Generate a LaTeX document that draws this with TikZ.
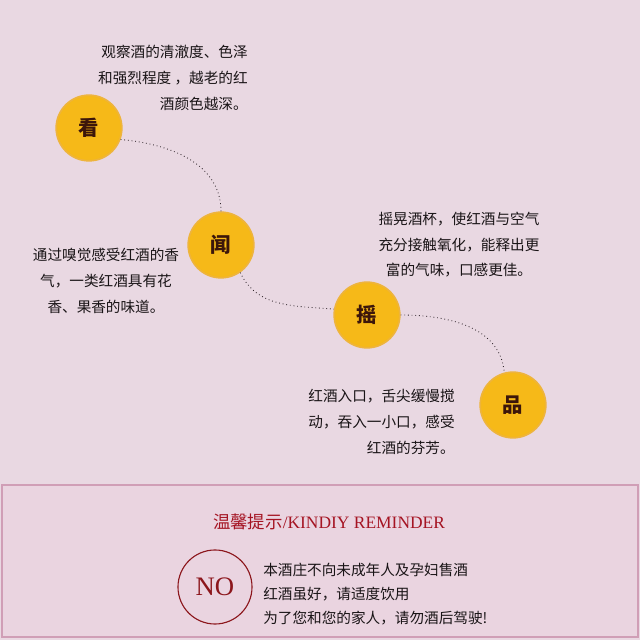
\documentclass[tikz,border=0pt]{standalone}
\usepackage{fontspec}
\setmainfont{Liberation Serif}
\newfontfamily\cjk{Noto Sans CJK SC}
\usetikzlibrary{positioning}
\definecolor{bgpink}{RGB}{233,216,226}
\definecolor{panelpink}{RGB}{234,212,224}
\definecolor{panelrim}{RGB}{208,158,182}
\definecolor{ballfill}{RGB}{246,185,24}
\definecolor{ballrim}{RGB}{238,180,60}
\definecolor{ballink}{RGB}{60,22,10}
\definecolor{inkblk}{RGB}{25,20,22}
\definecolor{trailgray}{RGB}{50,40,45}
\definecolor{winered}{RGB}{165,20,35}
\definecolor{nored}{RGB}{140,22,28}
\tikzset{
  ball/.style  ={circle, draw=ballrim, line width=1.2pt, fill=ballfill, minimum size=1.64cm, inner sep=0pt, text=ballink, font=\cjk\bfseries\fontsize{14.5}{14.5}\selectfont},
  note/.style  ={inner sep=0pt, text=inkblk, font=\cjk\fontsize{10.4}{18.2}\selectfont},
  trail/.style ={dotted, line width=0.6pt, draw=trailgray},
}

\begin{document}
\begin{tikzpicture}[x=0.025cm, y=0.025cm]
  \fill[bgpink] (0,0) rectangle (640,640);
  \useasboundingbox (0,0) rectangle (640,640);

  % the four steps
  \node[ball] (see)   at (89,512)  {看};
  \node[ball] (smell) at (221,395) {闻};
  \node[ball] (swirl) at (367,325) {摇};
  \node[ball] (taste) at (513,235) {品};

  \draw[trail] (see.-20)   to[out=-5,in=90]   (smell.north);
  \draw[trail] (smell.-55) to[out=-65,in=175] (swirl.170);
  \draw[trail] (swirl.east) to[out=0,in=95]   (taste.105);

  % what to do at each step
  \node[note, align=right, anchor=east] (seetxt) at (248,562)
    {观察酒的清澈度、色泽\\和强烈程度 ，越老的红\\酒颜色越深。};
  \node[note, align=center] (smelltxt) at (106,359)
    {通过嗅觉感受红酒的香\\气，一类红酒具有花\\香、果香的味道。};
  \node[note, align=center] (swirltxt) at (459,395)
    {摇晃酒杯，使红酒与空气\\充分接触氧化，能释出更\\富的气味，口感更佳。};
  \node[note, align=right, anchor=east] (tastetxt) at (455,218)
    {红酒入口，舌尖缓慢搅\\动，吞入一小口，感受\\红酒的芬芳。};

  % reminder panel
  \draw[panelrim, fill=panelpink, line width=0.8pt] (2,3) rectangle (638,155);
  \node[text=winered, font=\fontsize{12.4}{13}\selectfont] (hint) at (329,118)
    {{\cjk 温馨提示}/KINDIY REMINDER};
  \node[circle, draw=nored, line width=0.8pt, minimum size=1.85cm, inner sep=0pt,
        text=nored, font=\fontsize{19}{19}\selectfont] (no) at (215,53) {NO};
  \node[note, align=left, anchor=west, font=\cjk\fontsize{10.4}{17}\selectfont] (rules) at (263,46)
    {本酒庄不向未成年人及孕妇售酒\\红酒虽好，请适度饮用\\为了您和您的家人，请勿酒后驾驶!};
\end{tikzpicture}
\end{document}
